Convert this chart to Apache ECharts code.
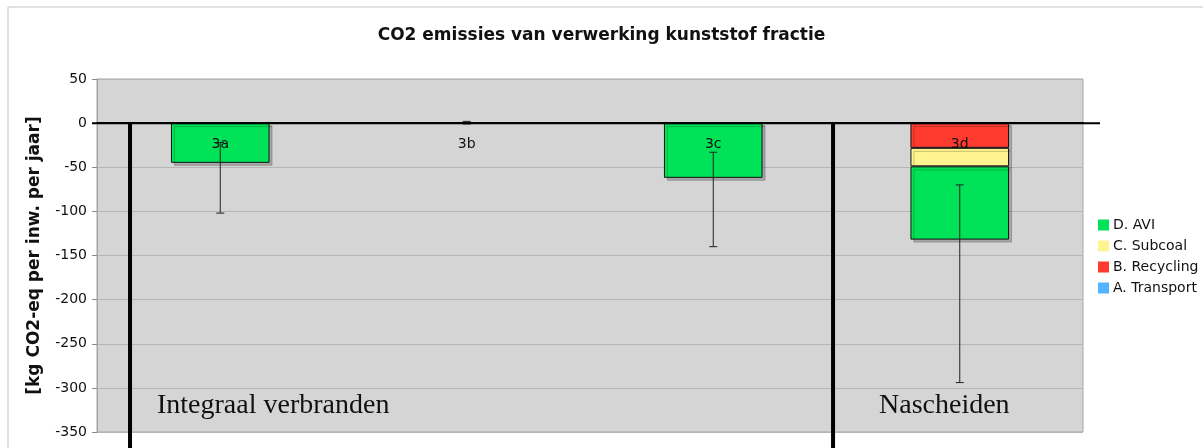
<!DOCTYPE html>
<html>
<head>
<meta charset="utf-8">
<script src="https://cdn.jsdelivr.net/npm/echarts@6/dist/echarts.min.js"></script>
<style>
  html, body { margin: 0; padding: 0; background: #fff; }
  #main { width: 1203px; height: 448px; }
</style>
</head>
<body>
<div id="main"></div>
<script>
// categories and values (kg CO2-eq per inw. per jaar), null = no bar
const categories = ['3a', '3b', '3c', '3d']
const transport = [0.5, null, 0.5, 1]
const recycling = [null, null, null, -28]
const subcoal = [null, null, null, -21]
const avi = [-45, null, -62, -83]
// error bar ranges
const errLow = [-102, -1, -140, -294]
const errHigh = [-22, 2, -33, -70]
// group separators on a hidden 0..4 axis
const separatorX = [0.134, 2.986]
const separatorY = [0, -372]
const groupLabels = ['Integraal verbranden', 'Nascheiden']

const yTicks = { min: -350, max: 50, interval: 50 }

const chart = echarts.init(document.getElementById('main'))
const sans = 'DejaVu Sans'

const barStyle = color => ({
  color: color,
  borderColor: '#111',
  borderWidth: 1,
  shadowColor: 'rgba(0,0,0,0.22)',
  shadowOffsetX: 3,
  shadowOffsetY: 3,
  shadowBlur: 0
})

const stackSeries = (name, data, color) => ({
  name: name,
  type: 'bar',
  stack: 'total',
  barWidth: '40%',
  itemStyle: barStyle(color),
  data: data
})

const option = {
  animation: false,
  backgroundColor: '#fff',
  title: {
    text: 'CO2 emissies van verwerking kunststof fractie',
    left: 'center',
    top: 22,
    textStyle: { fontFamily: sans, fontWeight: 'bold', fontSize: 17, color: '#111' }
  },
  legend: {
    orient: 'vertical',
    left: 1098,
    top: 218,
    padding: 0,
    itemWidth: 11,
    itemHeight: 11,
    itemGap: 7,
    icon: 'rect',
    itemStyle: { borderWidth: 0, shadowColor: 'transparent' },
    data: ['D. AVI', 'C. Subcoal', 'B. Recycling', 'A. Transport'],
    textStyle: { fontFamily: sans, fontSize: 14, color: '#111', padding: [0, 0, 0, -1] }
  },
  grid: {
    left: 97,
    right: 120,
    top: 79,
    bottom: 16,
    show: true,
    backgroundColor: '#d5d5d5',
    borderColor: '#a5a5a5',
    borderWidth: 1
  },
  xAxis: [
    {
      type: 'category',
      data: categories,
      z: 10,
      axisLine: { onZero: true, lineStyle: { color: '#000', width: 2 } },
      axisTick: { show: false },
      axisLabel: { show: false }
    },
    {
      type: 'value',
      min: 0,
      max: 4,
      show: false
    }
  ],
  yAxis: {
    type: 'value',
    min: yTicks.min,
    max: yTicks.max,
    interval: yTicks.interval,
    name: '[kg CO2-eq per inw. per jaar]',
    nameLocation: 'middle',
    nameGap: 54,
    nameTextStyle: { fontFamily: sans, fontWeight: 'bold', fontSize: 17, color: '#111' },
    axisLine: { show: true, lineStyle: { color: '#a5a5a5' } },
    axisTick: { show: true, length: 5, lineStyle: { color: '#888' } },
    axisLabel: { fontFamily: sans, fontSize: 14, color: '#111', margin: 10 },
    splitLine: { lineStyle: { color: '#b5b5b5' } }
  },
  series: [
    stackSeries('A. Transport', transport, '#55b4ff'),
    stackSeries('B. Recycling', recycling, '#ff3b30'),
    stackSeries('C. Subcoal', subcoal, '#fff48f'),
    stackSeries('D. AVI', avi, '#00e257'),
    {
      // category labels sit just under the zero line, error bars on top
      name: 'error',
      type: 'custom',
      z: 12,
      data: categories.map((c, i) => [i, errLow[i], errHigh[i]]),
      renderItem: (params, api) => {
        const lo = api.coord([api.value(0), api.value(1)])
        const hi = api.coord([api.value(0), api.value(2)])
        const zero = api.coord([api.value(0), 0])
        const style = { stroke: '#222', lineWidth: 1 }
        return {
          type: 'group',
          children: [
            {
              type: 'text',
              style: {
                x: zero[0], y: zero[1] + 21, text: categories[params.dataIndex],
                align: 'center', verticalAlign: 'middle',
                font: '14px "DejaVu Sans"', fill: '#111'
              }
            },
            { type: 'line', shape: { x1: lo[0], y1: lo[1], x2: hi[0], y2: hi[1] }, style },
            { type: 'line', shape: { x1: lo[0] - 4, y1: lo[1], x2: lo[0] + 4, y2: lo[1] }, style },
            { type: 'line', shape: { x1: hi[0] - 4, y1: hi[1], x2: hi[0] + 4, y2: hi[1] }, style }
          ]
        }
      }
    },
    ...separatorX.map(x => ({
      type: 'line',
      xAxisIndex: 1,
      clip: false,
      z: 11,
      symbol: 'none',
      silent: true,
      lineStyle: { color: '#000', width: 4 },
      data: separatorY.map(y => [x, y])
    }))
  ]
}

chart.setOption(option)

// zero line extends past the plot area, plus group captions and outer frame
const y0 = chart.convertToPixel({ yAxisIndex: 0 }, 0)
const yCaption = chart.convertToPixel({ yAxisIndex: 0 }, -320)
chart.setOption({
  graphic: [
    { type: 'rect', shape: { x: 8, y: 7, width: 1200, height: 460 }, style: { fill: 'none', stroke: '#c4c4c4', lineWidth: 1 }, z: -1 },
    { type: 'line', shape: { x1: 92, y1: y0, x2: 1100, y2: y0 }, style: { stroke: '#000', lineWidth: 2 }, z: 100 },
    {
      type: 'text', left: 157, top: yCaption - 14, z: 100,
      style: { text: groupLabels[0], font: '28px "Liberation Serif"', fill: '#111' }
    },
    {
      type: 'text', left: 879, top: yCaption - 14, z: 100,
      style: { text: groupLabels[1], font: '28px "Liberation Serif"', fill: '#111' }
    }
  ]
})
</script>
</body>
</html>
